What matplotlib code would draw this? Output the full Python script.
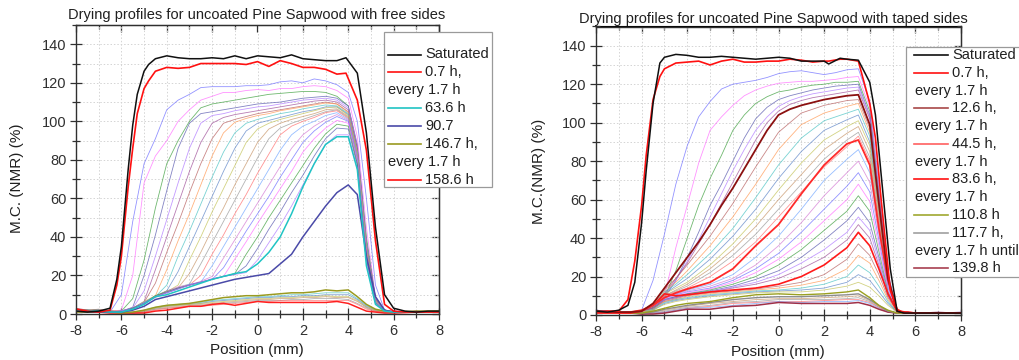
import matplotlib
matplotlib.use('Agg')
import matplotlib.pyplot as plt
from matplotlib.ticker import MultipleLocator
from matplotlib.lines import Line2D
from matplotlib.patches import Rectangle

plt.rcParams['font.family'] = ['Liberation Sans', 'DejaVu Sans']
plt.rcParams['axes.unicode_minus'] = False

# ---------------- left panel: free sides ----------------
pos_edge_L = [-8, -7.5, -7, -6.5, -6.2, -6, -5.7, -5.5, -5.3, -5, -4.8, -4.5, -4, -3.5, -3, -2.5, -2, -1.5, -1,
              -0.5, 0, 0.5, 1, 1.5, 2, 2.5, 3, 3.5, 3.9, 4.4, 4.8, 5.2, 5.6, 6, 6.5, 7, 7.5, 8]
sat_L = [1.5, 1, 1.5, 3, 18, 35, 75, 98, 114, 126, 129.5, 132.5, 134, 133, 132.5, 132.5, 133, 132.5, 134,
         132.5, 134, 133.5, 133, 134.5, 132.5, 132, 131.5, 131.5, 133, 125, 94, 45, 10, 3, 1.5, 1, 1.5, 1.5]
h07_L = [2.5, 1.5, 1, 2, 15, 30, 66, 86, 104, 117, 121, 126, 128, 127.5, 128, 130, 130, 130, 130,
         129.5, 131, 128.5, 131.5, 130, 128, 128, 127, 124.5, 125, 111, 85, 38, 5, 1.5, 1, 1, 1, 1]

pos_L = [-8, -7, -6.5, -6, -5.5, -5, -4.5, -4, -3.5, -3, -2.5, -2, -1.5, -1, -0.5, 0, 0.5, 1, 1.5, 2,
         2.5, 3, 3.5, 4, 4.4, 4.8, 5.2, 5.6, 6, 7, 8]
wet_L = [
    [2, 1.5, 1, 10, 48, 78, 91, 106, 111, 114, 117.5, 118, 118, 118, 118.5, 118.5, 119, 120.5, 121, 120, 122, 121, 119, 115, 100, 60, 15, 2, 1.5, 1, 1],
    [2, 1.5, 1.5, 2, 20, 68, 82, 90, 100, 106, 111, 113, 115, 115, 116, 116.5, 116, 117, 117, 118, 118.5, 118, 116, 112, 92, 45, 9, 2, 1.5, 1, 1],
    [1.5, 2, 1, 1.5, 8, 28, 55, 78, 90, 100, 107, 109, 110, 111, 112, 113, 114, 114.5, 115, 115.5, 115.5, 115, 113, 108, 86, 40, 8, 2, 1, 1, 1.5],
    [2, 1.5, 1, 1.5, 3.5, 20, 41, 64, 86, 99, 104, 105, 106, 107, 108, 109, 109.5, 110, 111, 112, 112.5, 113, 112, 108, 88, 38, 8, 2, 1, 1, 1],
    [3, 1, 1.5, 1.5, 3, 12, 30, 49, 68, 86, 99, 103, 104, 105.5, 106.5, 107.5, 108, 109, 110, 111, 111.5, 112, 111, 107, 87, 37, 8, 2, 1, 1.5, 1],
    [2, 2, 1, 1.5, 3, 6.5, 23, 40, 57, 74, 89, 99, 102, 103.5, 104.5, 105.5, 106.5, 107.5, 108.5, 109.5, 110.5, 111, 110, 106, 86, 36, 7.5, 2, 1, 1, 1.5],
    [1.5, 2.5, 1.5, 1, 3, 6, 16, 32, 47, 63, 78, 91, 99, 101, 102.5, 104, 105, 106, 107, 108, 109, 110, 109, 105, 85, 35, 7.5, 2, 1, 1, 1],
    [2, 1, 2, 1.5, 2.5, 5.5, 9.5, 23, 38, 52, 67, 82, 94, 99.5, 101.5, 103, 104, 105.5, 106.5, 107.5, 108.5, 109.5, 109, 104.5, 84, 35, 7, 2, 1, 1, 1],
    [2.5, 1.5, 1, 1.5, 3, 5.5, 9, 15, 30, 43, 57, 71, 84, 94, 99, 101, 102.5, 104, 105, 106.5, 107.5, 108.5, 108, 104, 84, 34, 7, 2, 1, 1.5, 1],
    [1.5, 2, 1, 1.5, 3, 6, 9, 12, 22, 35, 48, 61, 74, 86, 95, 99, 100.5, 102, 103.5, 105, 106, 107.5, 107.5, 103.5, 83, 34, 7, 2, 1, 1, 1],
    [2, 1.5, 1.5, 1, 3, 6.5, 9.5, 11.5, 15, 28, 40, 53, 65, 77, 89, 96, 99, 101, 102.5, 104, 105.5, 107, 107.5, 103, 83, 33, 7, 2, 1, 1, 1.5],
    [2, 1, 1.5, 1.5, 3, 5.5, 9, 12, 13.5, 21, 32, 44, 55, 67, 78, 89, 96, 99, 101, 102.5, 104, 106, 106.5, 102.5, 82, 33, 7, 2, 1, 1, 1],
    [1.5, 1.5, 1, 1.5, 3, 6, 9.5, 12, 14, 15.5, 26, 37, 48, 59, 70, 81, 91, 96.5, 99, 101, 103, 105, 106, 102, 82, 32, 6.5, 2, 1, 1, 1],
    [2, 1.5, 1.5, 1, 3, 5.5, 9, 11.5, 13.5, 15, 20, 31, 41, 52, 62, 73, 83, 93, 97.5, 100, 102, 104.5, 105.5, 101.5, 81, 32, 6.5, 2, 1, 1.5, 1],
    [1.5, 2, 1, 1.5, 3, 6, 9, 11, 13, 15.5, 16.5, 25, 35, 45, 55, 65, 75, 85, 93, 97.5, 100, 103, 104.5, 101, 81, 31, 6.5, 2, 1, 1, 1],
    [2.5, 1.5, 1.5, 1.5, 3, 5.5, 8.5, 11.5, 13.5, 15, 17, 19.5, 29, 38.5, 48, 57.5, 67, 76.5, 86, 93, 97.5, 101, 103.5, 100.5, 80, 31, 6, 2, 1, 1, 1],
    [2, 1, 1.5, 1, 2.5, 5.5, 9, 11.5, 13.5, 15, 16.5, 18, 24, 33.5, 43, 52, 61, 71, 80, 89, 95, 99.5, 102.5, 100, 80, 30, 6, 2, 1, 1, 1],
    [1.5, 1.5, 1, 1.5, 3, 5, 9, 11.5, 14, 15, 16.5, 18.5, 19.5, 28.5, 37.5, 47, 56, 65, 74, 84, 91, 96.5, 100.5, 99, 79, 30, 6, 1.5, 1, 1.5, 1],
    [2, 2, 1.5, 1, 3, 5.5, 9.5, 11.5, 13.5, 15, 16.5, 18, 19.5, 21, 31, 40, 50, 59, 68, 77, 86, 93.5, 98.5, 97.5, 78, 29, 6, 1.5, 1, 1, 1],
    [1.5, 1, 1, 1.5, 3, 5.5, 9, 11, 13, 15, 16.5, 18, 19.5, 20.5, 25, 34, 44, 53, 63, 72, 82, 91, 96.5, 96, 77, 28, 5.5, 1.5, 1, 1, 1],
    [2, 1.5, 1, 1.5, 2.5, 5.5, 9, 11, 13, 15, 16.5, 18, 19.5, 20.5, 21.5, 28, 37, 46, 56, 67, 78, 88, 93, 93, 75, 27, 5.5, 1.5, 1, 1, 1],
]
h636_L = [2, 1.5, 1, 1, 2.5, 5, 9, 10, 12, 14, 16, 18, 19.5, 21, 22, 26, 32, 40, 52, 66, 78, 88, 92, 92, 75, 25, 5, 1.5, 1, 1, 1]
h907_L = [1.5, 1, 1, 1, 2, 4, 7.5, 9, 10.5, 12, 13.5, 15, 16.5, 18, 19, 20, 21, 26, 31, 40, 48, 56, 63, 67, 62, 30, 9, 2, 1, 1, 1]
dry_L = [
    [1.5, 1.5, 1, 1, 1, 2, 3.5, 4.5, 5, 5.5, 6, 7, 7.5, 8, 8.5, 9, 9, 9.5, 10, 10, 10.5, 11, 11, 11, 8, 4.5, 2, 1.5, 1, 1, 1.5],
    [2, 1, 1.5, 1, 1, 1.5, 3, 4, 4.5, 5, 5.5, 6.5, 7, 7.5, 8, 8.5, 8.5, 9, 9, 9.5, 9.5, 10, 10, 10, 7.5, 4, 2, 1, 1, 1.5, 1],
    [1.5, 1.5, 1, 1, 0.5, 1.5, 3, 4, 4.5, 5, 5.5, 6, 6.5, 7, 7.5, 8, 8, 8.5, 8.5, 9, 9, 9.5, 9, 9, 7, 3.5, 2, 1, 1, 1, 1],
    [3, 1, 1, 1, 0.5, 1.5, 2.5, 3.5, 4, 4.5, 5, 5.5, 6, 6.5, 7, 7.5, 7.5, 8, 8, 8.5, 8.5, 9, 8.5, 8.5, 6.5, 3.5, 1.5, 1, 1, 1, 1],
    [2, 1.5, 1, 0.5, 0.5, 1, 2.5, 3, 3.5, 4, 4.5, 5, 5.5, 6, 6.5, 7, 7, 7, 7.5, 7.5, 8, 8, 8, 7.5, 5.5, 3, 1.5, 1, 1, 1, 1],
    [2, 1, 1, 0.5, 0.5, 1, 2, 3, 3.5, 4, 4, 4.5, 5, 5.5, 6, 6.5, 6.5, 7, 7, 7, 7, 7, 7, 7, 5, 2.5, 1.5, 1, 1, 1, 1],
]
h1467_L = [1, 1, 1, 0.5, 1, 2, 3.5, 4.5, 5, 5.5, 6.5, 7.5, 8.5, 9, 9.5, 9.5, 10, 10.5, 11, 11, 11.5, 12.5, 12, 12.5, 9, 5, 2.5, 1.5, 1, 1.5, 1.5]
h1586_L = [2.5, 1, 0.5, 0.5, 0.5, 0.5, 1.5, 2, 3, 4, 4, 5, 5.5, 4.5, 5.5, 6.5, 6, 6, 6, 6, 6, 6, 6.5, 5.5, 3.5, 1.5, 1, 0.5, 0.5, 1, 1]

# ---------------- right panel: taped sides ----------------
pos_edge_R = [-8, -7.5, -7, -6.6, -6.3, -6, -5.8, -5.5, -5.2, -5, -4.5, -4, -3.5, -3, -2.5, -2, -1.5, -1, -0.5,
              0, 0.5, 1, 1.5, 2, 2.2, 2.7, 3, 3.5, 4, 4.25, 4.5, 4.9, 5.2, 5.5, 6, 7, 8]
sat_R = [2, 1.5, 2.5, 5, 17, 48, 75, 110, 131, 134, 135.5, 135, 134, 134, 134.5, 134, 133.5, 133, 133.5,
         134, 133.5, 132, 132, 132, 130.5, 133.5, 133, 132.5, 121, 104, 73, 24, 2, 1, 1, 1, 1]
h07_R = [1.5, 2, 2, 8, 28, 57, 83, 112, 124, 128, 131, 131.5, 132, 130, 132, 133, 131.5, 131.5, 132,
         132, 133, 132.5, 131.5, 132, 132, 133, 133, 132, 110, 92, 60, 13, 3, 1, 1, 1, 1]

pos_R_fine = pos_L
early_R = [
    [2, 1.5, 1.5, 2.5, 18, 42, 68, 88, 103, 111, 117.5, 120, 121, 122, 123.5, 125.5, 126.5, 127, 126, 125, 126, 127.5, 128, 111, 67, 22, 2, 1, 1, 1, 1],
    [2.5, 1.5, 1, 1.5, 2, 10, 35, 57, 79, 96, 103, 109, 114, 117, 119, 120.5, 121, 121.5, 121.5, 122, 122.5, 123.5, 124, 108, 65, 21, 2, 1, 1, 1, 1],
    [2, 1.5, 1.5, 1.5, 3, 9, 23, 40, 57, 71, 83, 96, 104, 110, 113.5, 116, 117, 118.5, 119.5, 120, 121, 121, 121.5, 106, 63, 21, 2, 1, 1, 1, 1],
    [1.5, 2, 1, 1.5, 3, 9, 18, 30, 43, 57, 68, 80, 92, 102, 108, 112, 114, 115.5, 117, 118, 119, 119.5, 120, 104, 62, 20, 2, 1, 1, 1, 1],
    [2, 1.5, 1.5, 2, 3.5, 10, 18, 28, 39, 51, 63, 75, 86, 96, 103, 108.5, 111.5, 113.5, 115, 116, 117, 118, 118.5, 103, 61, 20, 2, 1, 1, 1, 1],
    [2.5, 1.5, 1, 1.5, 4, 11, 19, 27, 37, 47, 58, 69, 80, 91, 100, 106, 109.5, 111.5, 113, 114, 115, 116, 117, 102, 60, 20, 2, 1, 1, 1, 1],
]
h126_R = [2, 1.5, 1.5, 2, 6, 14, 22, 30, 38, 47, 57, 66, 76, 86, 96, 104, 107, 109, 110.5, 112, 113, 114, 114.5, 99, 58, 19, 2, 1, 1, 1, 1]

pos_R = [-8, -7, -6.5, -6, -5.5, -5, -4.5, -4, -3, -2, -1, 0, 1, 2, 3, 3.5, 4, 4.4, 4.8, 5.2, 6, 7, 8]
fan1_R = [
    [2, 1.5, 1.5, 2, 6, 13, 19, 26, 41, 58, 77, 95, 105, 109, 111.5, 112, 97, 58, 20, 2, 1, 1, 1],
    [1.5, 2, 1, 2, 5.5, 12, 17, 23, 36, 51, 68, 86, 99, 105, 108.5, 110, 95, 57, 19, 2, 1, 1.5, 1],
    [2.5, 1.5, 1.5, 1.5, 5, 12, 16, 21, 32, 45, 61, 78, 92, 101, 105, 107, 93, 56, 19, 2, 1, 1, 1],
    [2, 1, 1.5, 2, 5, 11, 15, 19, 29, 41, 55, 71, 85, 96, 101.5, 104, 90, 54, 18, 2, 1, 1, 1.5],
    [1.5, 1.5, 1, 2.5, 5, 11, 14, 17, 26, 37, 50, 65, 79, 91, 98, 101, 88, 53, 18, 2, 1, 1, 1],
    [2, 2, 1.5, 1.5, 4.5, 10, 13, 16, 24, 34, 46, 60, 73, 86, 94.5, 98, 85, 51, 17, 2, 1, 1, 1],
    [2.5, 1.5, 1, 2, 4.5, 10, 12.5, 15, 22, 31, 42, 55, 68, 81, 91, 95, 82, 49, 17, 2, 1, 1.5, 1],
    [1.5, 1, 1.5, 2, 4, 10, 12, 14, 20, 28, 38, 51, 64, 77, 87.5, 93, 80, 48, 16, 2, 1, 1, 1],
]
h445_R = [1, 1, 1.5, 2.5, 5, 9, 11.5, 13.5, 17, 24, 36, 47, 63, 78, 89, 91, 78, 45, 18, 2, 1, 1, 1]
fan2_R = [
    [2, 1.5, 1, 2, 4.5, 9, 11, 13, 16, 21, 30, 41, 55, 70, 81, 86, 74, 45, 16, 2, 1, 1, 1],
    [1.5, 2, 1.5, 2, 4.5, 9, 11, 12.5, 15, 19, 26, 36, 48, 62, 74, 80, 69, 42, 15, 2, 1, 1, 1.5],
    [2, 1.5, 1, 1.5, 4, 8.5, 10.5, 12, 14, 18, 24, 32, 43, 55, 67, 74, 64, 39, 14, 2, 1, 1, 1],
    [2.5, 1, 1.5, 2, 4, 8.5, 10, 11.5, 13.5, 17, 22, 29, 38, 49, 60, 68, 59, 36, 13, 2, 1, 1, 1],
    [1.5, 1.5, 1, 1.5, 4, 8, 9.5, 11, 13, 16, 20, 26, 34, 44, 54, 62, 54, 33, 12, 2, 1, 1, 1],
    [2, 2, 1.5, 2, 3.5, 8, 9.5, 11, 12.5, 15, 18.5, 23, 30, 39, 49, 56, 48, 30, 11, 2, 1, 1, 1],
    [1.5, 1, 1, 1.5, 3.5, 8, 9, 10.5, 12, 14.5, 17, 21, 27, 34, 43, 51, 44, 28, 10, 2, 1, 1.5, 1],
    [2, 1.5, 1.5, 2, 3.5, 7.5, 9, 10.5, 12, 14, 16, 19, 24, 30, 39, 47, 40, 26, 10, 2, 1, 1, 1],
]
h836_R = [1.5, 1, 1, 2, 5, 11, 10, 10.5, 12, 13, 14, 16, 20, 26, 35, 43, 36, 24, 11, 2, 1, 1, 1]
fan3_R = [
    [2, 1.5, 1, 1.5, 3.5, 7, 8.5, 10, 11.5, 12.5, 13.5, 15, 17, 21, 29, 37, 31, 21, 9, 2, 1, 1, 1],
    [1.5, 1.5, 1.5, 1.5, 3, 7, 8, 9.5, 11, 12, 13, 14, 15.5, 18, 24, 31, 27, 18, 8, 1.5, 1, 1, 1],
    [2, 1, 1, 1.5, 3, 6.5, 8, 9, 10.5, 11.5, 12.5, 13, 14, 16, 20, 26, 22, 15, 7, 1.5, 1, 1, 1],
    [2.5, 1.5, 1, 1, 2.5, 6, 7.5, 8.5, 10, 11, 12, 12.5, 13, 14, 17, 21, 18, 12, 6, 1.5, 1, 1, 1],
    [1.5, 1, 1.5, 1.5, 2.5, 5.5, 7, 8, 9.5, 10.5, 11.5, 12, 12, 13, 15, 17, 14.5, 10, 5, 1.5, 1, 1, 1],
]
h1108_R = [1.5, 1.5, 1, 1, 2, 3.5, 5, 6, 7, 9, 10.5, 11, 10.5, 11, 12, 13, 9, 5, 2.5, 1, 1, 1, 1]
h1177_R = [2, 1, 1, 1, 1.5, 3, 4, 5, 6.5, 8, 9, 9.5, 9.5, 10, 10.5, 11, 8, 5, 2, 1, 1, 1, 1]
fan4_R = [
    [1.5, 1.5, 1, 1, 1.5, 2.5, 3.5, 4.5, 6, 7, 8, 8.5, 8.5, 9, 9.5, 10, 7.5, 4.5, 2, 1, 1, 1, 1],
    [2, 1, 1.5, 0.5, 1, 2, 3, 4, 5, 6.5, 7, 8, 8, 8, 8.5, 9, 7, 4, 2, 1, 1, 1, 1],
    [1.5, 1.5, 1, 0.5, 1, 1.5, 2.5, 3.5, 4.5, 6, 6.5, 7, 7, 7.5, 8, 8, 6.5, 4, 1.5, 1, 1, 1, 1],
    [2.5, 1, 1, 0.5, 1, 1.5, 2.5, 3.5, 4, 5, 6, 7, 6.5, 7, 7, 7.5, 6, 3.5, 1.5, 1, 1, 1, 1],
]
h1398_R = [2, 1, 1, 0.5, 0.5, 1, 2, 3, 3, 4.5, 5, 6.5, 6, 6, 6, 6.5, 5, 3, 1.5, 1, 1, 1, 1]

thin_colors = ['#6f6fff', '#ff6fff', '#3fa03f', '#5a5ab0', '#b07aff', '#a0509a', '#b86060', '#ff9a55',
               '#4cc4c4', '#5f86c8', '#c4c45a', '#c8966a', '#9a9a9a', '#ff7070', '#74a8ff', '#d47ad4']

W, H = 1019, 360
fig = plt.figure(figsize=(W / 100, H / 100), dpi=100)


def fx(px):
    return px / W


def fy(py):
    return 1 - py / H


def style_axes(ax):
    ax.set_xlim(-8, 8)
    ax.set_ylim(0, 150)
    ax.xaxis.set_major_locator(MultipleLocator(2))
    ax.xaxis.set_minor_locator(MultipleLocator(1))
    ax.yaxis.set_minor_locator(MultipleLocator(10))
    ax.set_yticks([0, 20, 40, 60, 80, 100, 120, 140])
    ax.grid(which='both', color='#d4d4d4', linestyle=(0, (1.5, 2)), linewidth=0.7)
    ax.set_axisbelow(True)
    for s in ax.spines.values():
        s.set_color('#303030')
        s.set_linewidth(1.0)
    ax.tick_params(which='both', direction='inout', colors='#303030', labelsize=10.5, pad=2.5, width=0.9)
    ax.tick_params(which='major', length=9)
    ax.tick_params(which='minor', length=6)
    top = ax.secondary_xaxis('top')
    top.xaxis.set_major_locator(MultipleLocator(2))
    top.xaxis.set_minor_locator(MultipleLocator(1))
    top.tick_params(which='both', direction='in', labeltop=False, colors='#303030', width=0.9)
    top.tick_params(which='major', length=5)
    top.tick_params(which='minor', length=3)
    right = ax.secondary_yaxis('right')
    right.yaxis.set_major_locator(MultipleLocator(20))
    right.yaxis.set_minor_locator(MultipleLocator(10))
    right.tick_params(which='both', direction='in', labelright=False, colors='#303030', width=0.9)
    right.tick_params(which='major', length=5)
    right.tick_params(which='minor', length=3)


def draw_legend(box, rows, hx, tx, ex, y0, dy):
    x0, yt, x1, yb = box
    fig.add_artist(Rectangle((fx(x0), fy(yb)), fx(x1) - fx(x0), fy(yt) - fy(yb), transform=fig.transFigure,
                             facecolor='white', edgecolor='#9a9a9a', linewidth=0.9, zorder=5))
    for i, (label, color) in enumerate(rows):
        y = y0 + i * dy
        if color is None:
            fig.text(fx(ex), fy(y), label, ha='left', va='center', fontsize=10.5, color='#202020', zorder=6)
        else:
            fig.add_artist(Line2D([fx(hx[0]), fx(hx[1])], [fy(y), fy(y)], color=color, linewidth=1.2,
                                  transform=fig.transFigure, zorder=6))
            fig.text(fx(tx), fy(y), label, ha='left', va='center', fontsize=10.5, color='#202020', zorder=6)


# ---------- left ----------
ax1 = fig.add_axes([fx(76), fy(314), fx(439) - fx(76), fy(25) - fy(314)])
style_axes(ax1)
for i, c in enumerate(wet_L):
    ax1.plot(pos_L, c, color=thin_colors[i % len(thin_colors)], lw=0.6, alpha=0.75)
for i, c in enumerate(dry_L):
    ax1.plot(pos_L, c, color=thin_colors[(i + 8) % len(thin_colors)], lw=0.6, alpha=0.75)
ax1.plot(pos_L, h1586_L, color='#ff2020', lw=1.1)
ax1.plot(pos_L, h1467_L, color='#9a9a20', lw=1.1)
ax1.plot(pos_L, h907_L, color='#4a4aa8', lw=1.1)
ax1.plot(pos_L, h636_L, color='#20c4c4', lw=1.1)
ax1.plot(pos_edge_L, h07_L, color='#ff1010', lw=1.2)
ax1.plot(pos_edge_L, sat_L, color='#101010', lw=1.1)

fig.text(fx(257), fy(15), 'Drying profiles for uncoated Pine Sapwood with free sides', ha='center', va='center',
         fontsize=10.5, color='#202020')
fig.text(fx(257), fy(350), 'Position (mm)', ha='center', va='center', fontsize=11, color='#202020')
fig.text(fx(17), fy(178), 'M.C. (NMR) (%)', ha='center', va='center', rotation=90, fontsize=11, color='#202020')

rows_L = [('Saturated', '#101010'), ('0.7 h,', '#ff1010'), ('every 1.7 h', None), ('63.6 h', '#20c4c4'),
          ('90.7', '#4a4aa8'), ('146.7 h,', '#9a9a20'), ('every 1.7 h', None), ('158.6 h', '#ff1010')]
draw_legend((384, 32, 492, 187), rows_L, (388, 421), 425, 388, 54.5, 17.9)

# ---------- right ----------
ax2 = fig.add_axes([fx(596), fy(315), fx(961) - fx(596), fy(26.5) - fy(315)])
style_axes(ax2)
k = 0
for c in early_R:
    ax2.plot(pos_R_fine, c, color=thin_colors[k % len(thin_colors)], lw=0.6, alpha=0.75)
    k += 1
for group in (fan1_R, fan2_R, fan3_R, fan4_R):
    for c in group:
        ax2.plot(pos_R, c, color=thin_colors[k % len(thin_colors)], lw=0.6, alpha=0.75)
        k += 1
ax2.plot(pos_R, h1398_R, color='#a03048', lw=1.1)
ax2.plot(pos_R, h1177_R, color='#8c8c8c', lw=1.0)
ax2.plot(pos_R, h1108_R, color='#9aa020', lw=1.0)
ax2.plot(pos_R, h836_R, color='#ff1a1a', lw=1.2)
ax2.plot(pos_R, h445_R, color='#ff2a2a', lw=1.3)
ax2.plot(pos_R_fine, h126_R, color='#8b1010', lw=1.3)
ax2.plot(pos_edge_R, h07_R, color='#ff1010', lw=1.2)
ax2.plot(pos_edge_R, sat_R, color='#101010', lw=1.1)

fig.text(fx(773), fy(19), 'Drying profiles for uncoated Pine Sapwood with taped sides', ha='center', va='center',
         fontsize=10.5, color='#202020')
fig.text(fx(778), fy(352), 'Position (mm)', ha='center', va='center', fontsize=11, color='#202020')
fig.text(fx(539), fy(171), 'M.C.(NMR) (%)', ha='center', va='center', rotation=90, fontsize=11, color='#202020')

rows_R = [('Saturated', '#101010'), ('0.7 h,', '#ff1010'), ('every 1.7 h', None), ('12.6 h,', '#a84848'),
          ('every 1.7 h', None), ('44.5 h,', '#ff6060'), ('every 1.7 h', None), ('83.6 h,', '#ff1010'),
          ('every 1.7 h', None), ('110.8 h', '#a0a830'), ('117.7 h,', '#a0a0a0'), ('every 1.7 h until', None),
          ('139.8 h', '#a84050')]
draw_legend((906, 47, 1040, 277), rows_R, (914, 948), 952, 915, 55, 17.78)

fig.savefig('out.png', dpi=100)
